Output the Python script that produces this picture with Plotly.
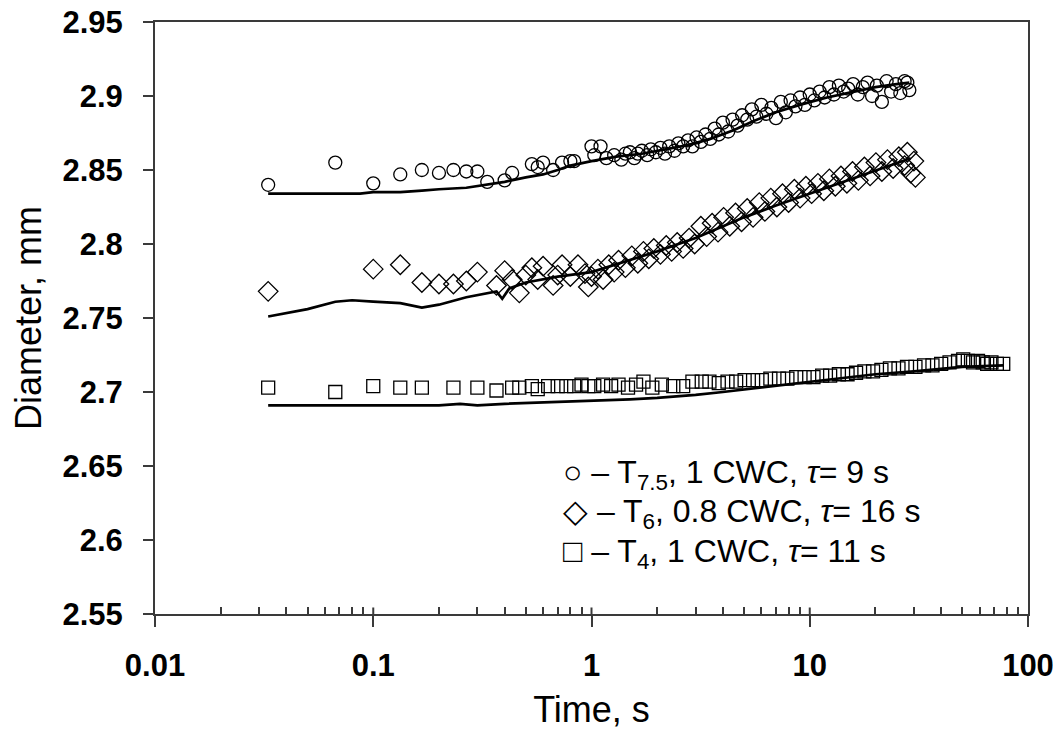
import plotly.graph_objects as go

# ---- data (time in s, diameter in mm) ----
t_circ = [0.033, 0.067, 0.100, 0.133, 0.167, 0.200, 0.233, 0.267, 0.300, 0.333,
          0.400, 0.433, 0.533, 0.567, 0.600, 0.667, 0.733, 0.800, 0.833, 1.00,
          1.03, 1.10, 1.17, 1.27, 1.37, 1.43, 1.50, 1.57, 1.63, 1.70,
          1.80, 1.87, 1.97, 2.07, 2.17, 2.27, 2.40, 2.50, 2.63, 2.77,
          2.90, 3.03, 3.17, 3.33, 3.50, 3.67, 3.83, 4.00, 4.23, 4.43,
          4.67, 4.90, 5.17, 5.43, 5.70, 6.00, 6.33, 6.67, 7.00, 7.37,
          7.77, 8.17, 8.60, 9.03, 9.50, 10.0, 10.5, 11.1, 11.7, 12.3,
          12.9, 13.6, 14.3, 15.0, 15.8, 16.6, 17.5, 18.4, 19.3, 20.3,
          21.4, 22.5, 23.6, 24.8, 26.0, 27.2, 28.0, 28.6]
d_circ = [2.840, 2.855, 2.841, 2.847, 2.850, 2.848, 2.850, 2.849, 2.849, 2.842,
          2.843, 2.848, 2.854, 2.852, 2.855, 2.850, 2.855, 2.856, 2.856, 2.866,
          2.860, 2.866, 2.858, 2.860, 2.857, 2.861, 2.862, 2.858, 2.861, 2.863,
          2.860, 2.864, 2.862, 2.865, 2.861, 2.866, 2.863, 2.868, 2.866, 2.870,
          2.866, 2.872, 2.869, 2.874, 2.871, 2.878, 2.874, 2.882, 2.876, 2.884,
          2.880, 2.887, 2.884, 2.891, 2.886, 2.894, 2.888, 2.892, 2.885, 2.896,
          2.889, 2.897, 2.893, 2.899, 2.894, 2.901, 2.897, 2.903, 2.899, 2.906,
          2.901, 2.907, 2.903, 2.905, 2.908, 2.901, 2.906, 2.909, 2.900, 2.907,
          2.896, 2.910, 2.903, 2.908, 2.902, 2.910, 2.909, 2.904]

t_circ_fit = [0.033, 0.067, 0.087, 0.100, 0.133, 0.167, 0.200, 0.267, 0.333, 0.400,
              0.500, 0.600, 0.700, 0.800, 1.00, 1.30, 1.70, 2.20, 2.80, 3.50,
              4.50, 5.50, 7.00, 9.00, 12.0, 16.0, 20.0, 25.0, 28.6]
d_circ_fit = [2.834, 2.834, 2.834, 2.835, 2.835, 2.836, 2.837, 2.838, 2.840, 2.842,
              2.845, 2.847, 2.850, 2.853, 2.856, 2.859, 2.861, 2.864, 2.867, 2.871,
              2.877, 2.883, 2.889, 2.894, 2.899, 2.903, 2.906, 2.908, 2.909]

t_diam = [0.033, 0.100, 0.133, 0.167, 0.200, 0.233, 0.267, 0.300, 0.367, 0.400,
          0.433, 0.467, 0.500, 0.533, 0.567, 0.600, 0.667, 0.700, 0.733, 0.800,
          0.867, 0.933, 0.967, 1.00, 1.07, 1.13, 1.20, 1.27, 1.33, 1.43,
          1.53, 1.63, 1.73, 1.83, 1.93, 2.07, 2.20, 2.33, 2.47, 2.63,
          2.80, 2.97, 3.17, 3.37, 3.57, 3.80, 4.03, 4.30, 4.57, 4.87,
          5.17, 5.50, 5.87, 6.23, 6.63, 7.07, 7.50, 8.00, 8.50, 9.03,
          9.60, 10.2, 10.9, 11.6, 12.3, 13.1, 13.9, 14.8, 15.7, 16.7,
          17.8, 18.9, 20.1, 21.4, 22.7, 24.1, 25.6, 27.2, 28.0, 29.0,
          30.0, 30.5]
d_diam = [2.768, 2.783, 2.786, 2.774, 2.773, 2.773, 2.775, 2.781, 2.772, 2.782,
          2.776, 2.767, 2.779, 2.784, 2.776, 2.785, 2.772, 2.779, 2.786, 2.778,
          2.786, 2.780, 2.771, 2.778, 2.783, 2.776, 2.786, 2.781, 2.789, 2.784,
          2.792, 2.787, 2.795, 2.790, 2.797, 2.793, 2.799, 2.795, 2.801, 2.797,
          2.804, 2.800, 2.812, 2.805, 2.814, 2.808, 2.818, 2.812, 2.821, 2.815,
          2.824, 2.818, 2.828, 2.822, 2.831, 2.825, 2.834, 2.828, 2.837, 2.831,
          2.839, 2.834, 2.841, 2.836, 2.844, 2.839, 2.846, 2.841, 2.849, 2.843,
          2.852, 2.846, 2.855, 2.849, 2.857, 2.851, 2.859, 2.853, 2.862, 2.848,
          2.856, 2.845]

t_diam_fit = [0.033, 0.050, 0.067, 0.080, 0.100, 0.133, 0.167, 0.200, 0.267, 0.333,
              0.367, 0.390, 0.420, 0.500, 0.700, 1.00, 1.50, 2.00, 3.00, 4.00,
              5.00, 7.00, 10.0, 14.0, 20.0, 25.0, 29.0]
d_diam_fit = [2.751, 2.756, 2.761, 2.762, 2.761, 2.760, 2.757, 2.759, 2.764, 2.767,
              2.768, 2.763, 2.770, 2.774, 2.778, 2.781, 2.789, 2.795, 2.804, 2.812,
              2.818, 2.826, 2.834, 2.842, 2.850, 2.855, 2.858]

t_sq = [0.033, 0.067, 0.100, 0.133, 0.167, 0.233, 0.300, 0.367, 0.433, 0.467,
        0.533, 0.567, 0.633, 0.700, 0.767, 0.833, 0.900, 0.967, 1.03, 1.13,
        1.23, 1.33, 1.47, 1.60, 1.73, 1.90, 2.10, 2.37, 2.63, 2.90,
        3.20, 3.47, 3.83, 4.20, 4.60, 5.03, 5.50, 6.03, 6.60, 7.23,
        7.90, 8.67, 9.47, 10.4, 11.4, 12.4, 13.6, 14.9, 16.3, 17.8,
        19.5, 21.3, 23.3, 25.5, 27.9, 30.5, 33.4, 36.5, 40.0, 43.7,
        47.8, 50.5, 53.0, 56.0, 59.0, 62.0, 65.0, 68.0, 72.0, 77.0]
d_sq = [2.703, 2.700, 2.704, 2.703, 2.703, 2.703, 2.703, 2.701, 2.703, 2.703,
        2.704, 2.702, 2.704, 2.704, 2.704, 2.704, 2.705, 2.704, 2.704, 2.705,
        2.704, 2.705, 2.703, 2.705, 2.707, 2.703, 2.705, 2.704, 2.704, 2.707,
        2.707, 2.707, 2.706, 2.707, 2.707, 2.708, 2.708, 2.708, 2.709, 2.709,
        2.709, 2.710, 2.710, 2.710, 2.711, 2.711, 2.712, 2.712, 2.713, 2.714,
        2.714, 2.715, 2.716, 2.716, 2.717, 2.717, 2.718, 2.718, 2.719, 2.720,
        2.721, 2.722, 2.721, 2.720, 2.721, 2.720, 2.719, 2.720, 2.719, 2.719]

t_sq_fit = [0.033, 0.100, 0.200, 0.250, 0.300, 0.400, 0.500, 0.700, 1.00, 1.50,
            2.00, 3.00, 4.00, 6.00, 10.0, 15.0, 20.0, 30.0, 50.0, 77.0]
d_sq_fit = [2.691, 2.691, 2.691, 2.692, 2.691, 2.692, 2.6925, 2.693, 2.694, 2.695,
            2.696, 2.698, 2.700, 2.703, 2.707, 2.710, 2.712, 2.714, 2.717, 2.718]

x_ticks = [0.01, 0.1, 1, 10, 100]
x_tick_text = ["0.01", "0.1", "1", "10", "100"]
y_ticks = [2.55, 2.6, 2.65, 2.7, 2.75, 2.8, 2.85, 2.9, 2.95]
y_tick_text = ["2.55", "2.6", "2.65", "2.7", "2.75", "2.8", "2.85", "2.9", "2.95"]

legend_lines = ["\u25cb \u2013 T<sub>7.5</sub>, 1 CWC, <i>\u03c4</i>= 9 s",
                "\u25c7 \u2013 T<sub>6</sub>, 0.8 CWC, <i>\u03c4</i>= 16 s",
                "\u25a1 \u2013 T<sub>4</sub>, 1 CWC, <i>\u03c4</i>= 11 s"]

# minor tick positions (2..9 within each decade)
minor_x = [m * x_ticks[k] for k in range(len(x_ticks) - 1) for m in range(2, 10)]

FONT = "Liberation Sans, Arial, sans-serif"
fig = go.Figure()

def add_fit(t, d):
    fig.add_trace(go.Scatter(x=t, y=d, mode="lines",
                             line=dict(color="black", width=2.7),
                             showlegend=False, hoverinfo="skip"))

def add_pts(t, d, sym, size):
    fig.add_trace(go.Scatter(x=t, y=d, mode="markers",
                             marker=dict(symbol=sym, size=size, color="black",
                                         line=dict(color="black", width=1.3)),
                             showlegend=False))

add_fit(t_circ_fit, d_circ_fit)
add_fit(t_diam_fit, d_diam_fit)
add_fit(t_sq_fit, d_sq_fit)
add_pts(t_circ, d_circ, "circle-open", 13)
add_pts(t_diam, d_diam, "diamond-open", 15)
add_pts(t_sq, d_sq, "square-open", 13)

axis_color = "#3a3a3a"
fig.update_xaxes(type="log", range=[-2, 2], automargin=False,
                 tickvals=x_ticks, ticktext=x_tick_text,
                 ticks="outside", ticklen=11, tickwidth=2, tickcolor=axis_color,
                 showline=True, linecolor=axis_color, linewidth=2, mirror=True,
                 showgrid=False, zeroline=False, ticklabeloverflow="allow",
                 minor=dict(tickmode="array", tickvals=minor_x, ticks="inside", ticklen=7,
                            tickwidth=1.5, tickcolor=axis_color, showgrid=False),
                 tickfont=dict(family=FONT, size=31, color="black", weight="bold"),
                 ticklabelstandoff=12,
                 title=dict(text="Time, s", font=dict(family=FONT, size=36, color="black"),
                            standoff=17))
fig.update_yaxes(range=[2.55, 2.95], automargin=False,
                 tickvals=y_ticks, ticktext=y_tick_text,
                 ticks="outside", ticklen=10, tickwidth=2, tickcolor=axis_color,
                 showline=True, linecolor=axis_color, linewidth=2, mirror=True,
                 showgrid=False, zeroline=False, ticklabeloverflow="allow",
                 tickfont=dict(family=FONT, size=31, color="black", weight="bold"),
                 ticklabelstandoff=14,
                 title=dict(text="Diameter, mm", font=dict(family=FONT, size=36, color="black"),
                            standoff=14))

# inner halves of major x ticks (crossing ticks)
for xv in x_ticks[1:-1]:
    fig.add_shape(type="line", xref="x", yref="paper", x0=xv, x1=xv, y0=0, y1=0.011,
                  line=dict(color=axis_color, width=2))

for i, txt in enumerate(legend_lines):
    fig.add_annotation(text=txt, xref="paper", yref="paper", x=0.465, y=0.236 - i * 0.067,
                       xanchor="left", yanchor="middle", showarrow=False,
                       font=dict(family=FONT, size=32, color="black"))

fig.update_layout(width=1045, height=722,
                  margin=dict(l=147, r=25, t=14, b=116),
                  paper_bgcolor="white", plot_bgcolor="white")

fig.write_html("out.html")
